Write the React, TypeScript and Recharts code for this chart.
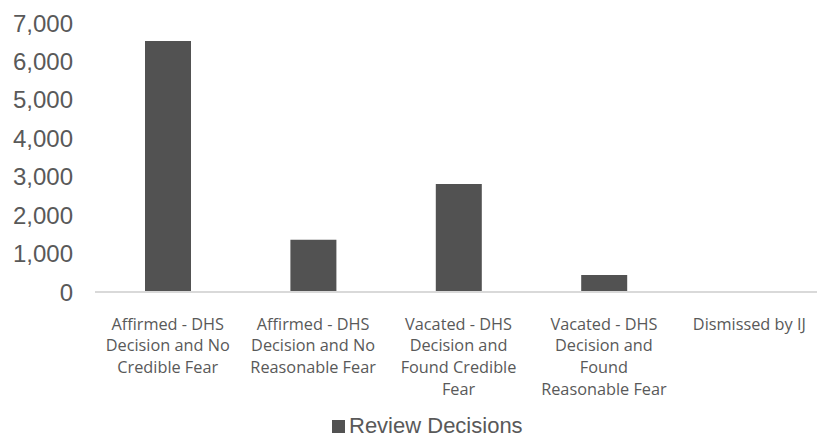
import { Bar, BarChart, CartesianGrid, XAxis, YAxis } from "recharts";

const categories = [
  "Affirmed - DHS Decision and No Credible Fear",
  "Affirmed - DHS Decision and No Reasonable Fear",
  "Vacated - DHS Decision and Found Credible Fear",
  "Vacated - DHS Decision and Found Reasonable Fear",
  "Dismissed by IJ",
];

// wrapped the way the original axis breaks them
const categoryLines = [
  ["Affirmed - DHS", "Decision and No", "Credible Fear"],
  ["Affirmed - DHS", "Decision and No", "Reasonable Fear"],
  ["Vacated - DHS", "Decision and", "Found Credible", "Fear"],
  ["Vacated - DHS", "Decision and", "Found", "Reasonable Fear"],
  ["Dismissed by IJ"],
];

const reviewDecisions = [6530, 1360, 2810, 440, 0];

const yTicks = [0, 1000, 2000, 3000, 4000, 5000, 6000, 7000];

const data = categories.map((name, i) => ({
  name,
  value: reviewDecisions[i],
}));

const textColor = "#595959";
const barColor = "#525252";

const CategoryTick = ({ x, y, index }: any) => {
  const lines = categoryLines[index] || [];
  return (
    <g transform={`translate(${x},${y})`}>
      <text
        textAnchor="middle"
        fill={textColor}
        style={{ fontFamily: "'Open Sans', sans-serif", fontSize: 16.3 }}
      >
        {lines.map((line, i) => (
          <tspan key={i} x={0} y={29.5 + i * 21.7}>
            {line}
          </tspan>
        ))}
      </text>
    </g>
  );
};

export default function App() {
  return (
    <div
      style={{
        position: "absolute",
        left: 0,
        top: 0,
        width: 817,
        height: 437,
        overflow: "hidden",
        background: "#fff",
      }}
    >
      <BarChart
        width={830}
        height={437}
        data={data}
        margin={{ top: 23, right: 8, left: 0, bottom: 45 }}
        barSize={46}
      >
        <CartesianGrid vertical={false} horizontal={false} />
        <XAxis
          dataKey="name"
          interval={0}
          axisLine={{ stroke: "#d9d9d9", strokeWidth: 2 }}
          tickLine={false}
          tick={<CategoryTick />}
          height={100}
        />
        <YAxis
          width={95}
          domain={[0, 7000]}
          ticks={yTicks}
          interval={0}
          axisLine={false}
          tickLine={false}
          tickSize={0}
          tickMargin={22}
          tickFormatter={(v: number) => v.toLocaleString("en-US")}
          tick={{
            fill: textColor,
            fontSize: 24,
            fontFamily: "'Liberation Sans', Arial, sans-serif",
          }}
        />
        <Bar dataKey="value" fill={barColor} isAnimationActive={false} />
      </BarChart>
      <div
        style={{
          position: "absolute",
          left: 332,
          top: 413,
          display: "flex",
          alignItems: "center",
          fontFamily: "'Liberation Sans', Arial, sans-serif",
          fontSize: 22,
          color: textColor,
          whiteSpace: "nowrap",
        }}
      >
        <span
          style={{
            width: 13,
            height: 13,
            background: barColor,
            display: "inline-block",
            marginRight: 4,
          }}
        />
        Review Decisions
      </div>
    </div>
  );
}
